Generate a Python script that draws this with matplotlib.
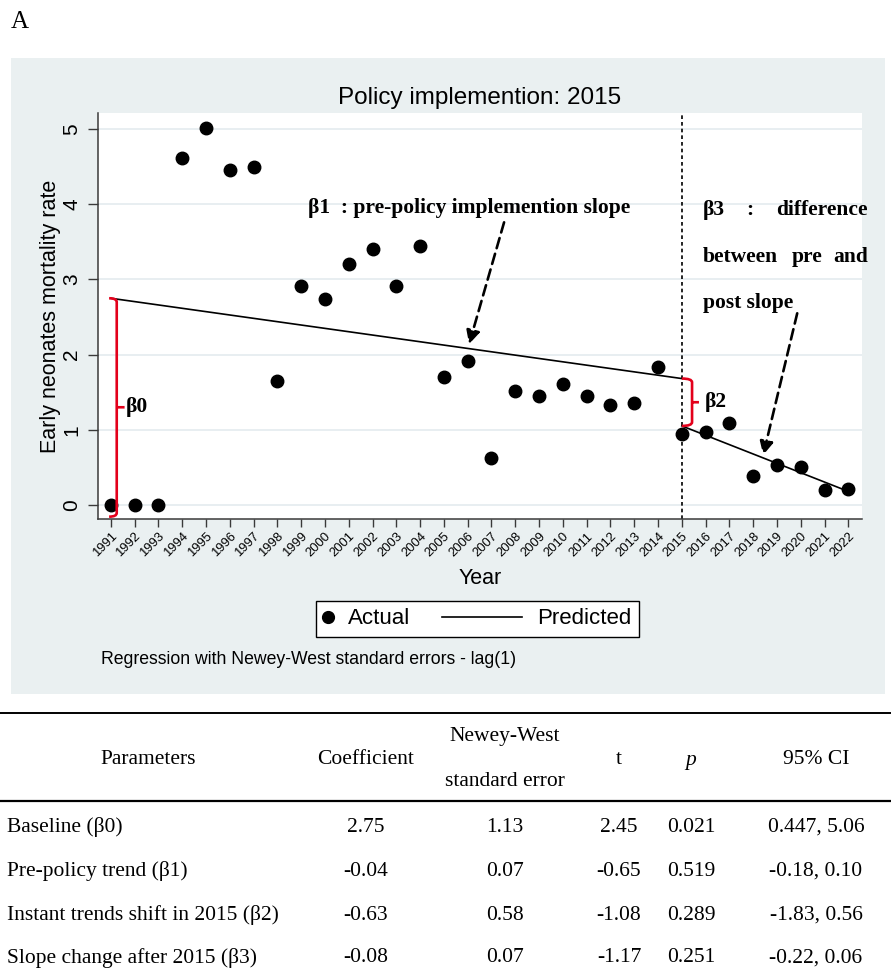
import numpy as np
import matplotlib
matplotlib.use("Agg")
import matplotlib.pyplot as plt
from matplotlib.lines import Line2D
from matplotlib.patches import Rectangle, PathPatch
from matplotlib.path import Path
from matplotlib.legend_handler import HandlerLine2D

# ---------------- data ----------------
years = list(range(1991, 2023))
actual = [0.00, 0.00, 0.00, 4.62, 5.02, 4.46, 4.50, 1.65, 2.91, 2.74,
          3.20, 3.40, 2.91, 3.45, 1.70, 1.91, 0.63, 1.52, 1.45, 1.61,
          1.45, 1.33, 1.36, 1.83, 0.94, 0.97, 1.09, 0.39, 0.53, 0.51,
          0.20, 0.21]
policy_year = 2015

# segmented regression coefficients
b0 = 2.75      # baseline level
b1 = -0.0445   # pre-policy slope
b2 = -0.63     # level shift at policy year
b3 = -0.08     # change in slope after policy

# table contents
table_header = ["Parameters", "Coefficient", "Newey-West\nstandard error", "t", "p", "95% CI"]
param_labels = ["Baseline (β0)", "Pre-policy trend (β1)",
                "Instant trends shift in 2015 (β2)", "Slope change after 2015 (β3)"]
coef_vals = ["2.75", "-0.04", "-0.63", "-0.08"]
se_vals = ["1.13", "0.07", "0.58", "0.07"]
t_vals = ["2.45", "-0.65", "-1.08", "-1.17"]
p_vals = ["0.021", "0.519", "0.289", "0.251"]
ci_vals = ["0.447, 5.06", "-0.18, 0.10", "-1.83, 0.56", "-0.22, 0.06"]

# ---------------- figure ----------------
W, H = 891, 977
fig = plt.figure(figsize=(W / 100, H / 100), dpi=100)
fig.patch.set_facecolor("white")

def fx(px):
    return px / W

def fy(py):
    return 1 - py / H

SANS = ["Liberation Sans", "DejaVu Sans"]
SERIF = ["Liberation Serif", "DejaVu Serif"]
BG = "#EAF0F1"

# shaded graph region
fig.patches.append(Rectangle((fx(11), fy(694)), fx(885) - fx(11), fy(58) - fy(694),
                             transform=fig.transFigure, facecolor=BG, edgecolor="none", zorder=0))

fig.text(fx(11), fy(22), "A", family=SERIF, fontsize=18, ha="left", va="center")

ax = fig.add_axes([fx(97.7), fy(519.3), fx(861.7) - fx(97.7), fy(113.3) - fy(519.3)])
ax.set_facecolor("white")
ax.set_zorder(2)

ax.set_xlim(1990.45, 2022.56)
ax.set_ylim(-0.19, 5.21)

# grid
ax.set_yticks(range(0, 6))
ax.grid(axis="y", color="#E6EDF0", linewidth=1.3, zorder=0)
ax.grid(axis="x", visible=False)
ax.set_axisbelow(True)

for s in ["top", "right"]:
    ax.spines[s].set_visible(False)
for s in ["left", "bottom"]:
    ax.spines[s].set_color("#3a3a3a")
    ax.spines[s].set_linewidth(1.1)

ax.set_xticks(years)
ax.set_xticklabels([str(y) for y in years], rotation=45, ha="right", va="top",
                   rotation_mode="anchor", family=SANS, fontsize=9.4)
ax.tick_params(axis="x", length=6, width=1.0, color="#3a3a3a", pad=2)
ax.tick_params(axis="y", length=7, width=1.0, color="#3a3a3a", pad=5,
               labelrotation=90, labelsize=15)
for lab in ax.get_yticklabels():
    lab.set_family(SANS)
    lab.set_va("center")

ax.set_ylabel("Early neonates mortality rate", family=SANS, fontsize=15.5, labelpad=1)
ax.set_xlabel("Year", family=SANS, fontsize=15.5, labelpad=6)
ax.set_title("Policy implemention: 2015", family=SANS, fontsize=17.5, pad=7)

# actual values
ax.plot(years, actual, linestyle="none", marker="o", markersize=9,
        color="black", zorder=4, label="Actual")

# predicted segments
pre_x = np.array([years[0], policy_year], dtype=float)
pre_y = b0 + b1 * (pre_x - years[0])
post_x = np.array([policy_year, years[-1]], dtype=float)
post_y = b0 + b1 * (post_x - years[0]) + b2 + b3 * (post_x - policy_year)
ax.plot(pre_x, pre_y, color="black", linewidth=1.2, zorder=3, label="Predicted")
ax.plot(post_x, post_y, color="black", linewidth=1.2, zorder=3)

# policy year marker line
ax.axvline(policy_year, color="black", linewidth=1.2, linestyle=(0, (2.2, 1.8)), zorder=2)

# ---------------- annotations ----------------
RED = "#E3001B"

def brace(x, y_lo, y_hi, x_hook, x_nub, y_mid):
    dy = 0.05
    verts = [(x_hook, y_hi), (x, y_hi), (x, y_hi - dy),
             (x, y_lo + dy), (x, y_lo), (x_hook, y_lo),
             (x, y_mid), (x_nub, y_mid)]
    codes = [Path.MOVETO, Path.CURVE3, Path.CURVE3,
             Path.LINETO, Path.CURVE3, Path.CURVE3,
             Path.MOVETO, Path.LINETO]
    ax.add_patch(PathPatch(Path(verts, codes), facecolor="none", edgecolor=RED,
                           linewidth=1.9, zorder=5, clip_on=False))

ann_font = dict(family=SERIF, fontsize=15.5, fontweight="bold", color="black")

# beta0: baseline level
brace(1991.25, -0.155, pre_y[0], 1990.93, 1991.58, 1.30)
ax.text(1991.64, 1.30, "β0", ha="left", va="center", **ann_font)

# beta2: level shift at 2015
brace(2015.43, post_y[0], pre_y[1], 2015.0, 2015.72, (post_y[0] + pre_y[1]) / 2)
ax.text(2015.98, (post_y[0] + pre_y[1]) / 2, "β2", ha="left", va="center", **ann_font)

arrow_props = dict(arrowstyle="-|>,head_length=0.8,head_width=0.4",
                   color="black", linewidth=1.9, linestyle=(0, (4, 2.2)),
                   shrinkA=0, shrinkB=0)

# beta1 label and arrow
ax.text(1999.29, 3.95, "β1  : pre-policy implemention slope", ha="left", va="center", **ann_font)
ax.annotate("", xy=(2006.06, 2.14), xytext=(2007.53, 3.76), arrowprops=arrow_props, zorder=6)

# beta3 label (justified block) and arrow
ax.text(2015.9, 3.92, "β3", ha="left", va="center", **ann_font)
ax.text(2017.87, 3.92, ":", ha="center", va="center", **ann_font)
ax.text(2022.83, 3.92, "difference", ha="right", va="center", **ann_font)
ax.text(2015.9, 3.30, "between", ha="left", va="center", **ann_font)
ax.text(2020.25, 3.30, "pre", ha="center", va="center", **ann_font)
ax.text(2022.83, 3.30, "and", ha="right", va="center", **ann_font)
ax.text(2015.9, 2.69, "post slope", ha="left", va="center", **ann_font)
ax.annotate("", xy=(2018.42, 0.665), xytext=(2019.85, 2.55), arrowprops=arrow_props, zorder=6)

# ---------------- legend ----------------
class LongLineHandler(HandlerLine2D):
    """Line key that extends further to the left than the handle box."""
    def __init__(self, extra, **kw):
        super().__init__(**kw)
        self.extra = extra

    def create_artists(self, legend, orig_handle, xdescent, ydescent, width,
                       height, fontsize, trans):
        ext = self.extra * width
        return super().create_artists(legend, orig_handle, xdescent + ext, ydescent,
                                      width + ext, height, fontsize, trans)

actual_key = Line2D([], [], linestyle="none", marker="o", markersize=8.5, color="black")
pred_key = Line2D([], [], color="black", linewidth=1.2)
leg = fig.legend([actual_key, pred_key], ["Actual", "Predicted"], ncol=2,
                 loc="center left", bbox_to_anchor=(fx(316), fy(619)),
                 prop=dict(family=SANS, size=16), frameon=True, fancybox=False,
                 edgecolor="black", facecolor="white", framealpha=1,
                 handlelength=0.4, handletextpad=0.7, columnspacing=4.62,
                 borderpad=0.33, borderaxespad=0,
                 handler_map={pred_key: LongLineHandler(extra=8.0)})
leg.get_frame().set_linewidth(1.0)

fig.text(fx(101), fy(660), "Regression with Newey-West standard errors - lag(1)",
         family=SANS, fontsize=12.7, ha="left", va="center")

# ---------------- results table ----------------
tab_font = dict(family=SERIF, fontsize=15.5, color="black")
col_x = [148, 366, 505, 619, 691, 816]
fig.add_artist(Line2D([0, 1], [fy(712.5), fy(712.5)], transform=fig.transFigure,
                      color="black", linewidth=1.4))
fig.add_artist(Line2D([0, 1], [fy(800.5), fy(800.5)], transform=fig.transFigure,
                      color="black", linewidth=1.6))

fig.text(fx(col_x[0]), fy(760), table_header[0], ha="center", va="center", **tab_font)
fig.text(fx(col_x[1]), fy(760), table_header[1], ha="center", va="center", **tab_font)
nw_top, nw_bot = table_header[2].split("\n")
fig.text(fx(col_x[2]), fy(737), nw_top, ha="center", va="center", **tab_font)
fig.text(fx(col_x[2]), fy(781), nw_bot, ha="center", va="center", **tab_font)
fig.text(fx(col_x[3]), fy(760), table_header[3], ha="center", va="center", **tab_font)
fig.text(fx(col_x[4]), fy(760), table_header[4], ha="center", va="center",
         style="italic", **tab_font)
fig.text(fx(col_x[5]), fy(760), table_header[5], ha="center", va="center", **tab_font)

row_y = [827, 871, 915, 958]
for i, ry in enumerate(row_y):
    fig.text(fx(7), fy(ry), param_labels[i], ha="left", va="center", **tab_font)
    for cx, vals in zip(col_x[1:], [coef_vals, se_vals, t_vals, p_vals, ci_vals]):
        fig.text(fx(cx), fy(ry), vals[i], ha="center", va="center", **tab_font)

fig.savefig("out.png", dpi=100, facecolor="white")
